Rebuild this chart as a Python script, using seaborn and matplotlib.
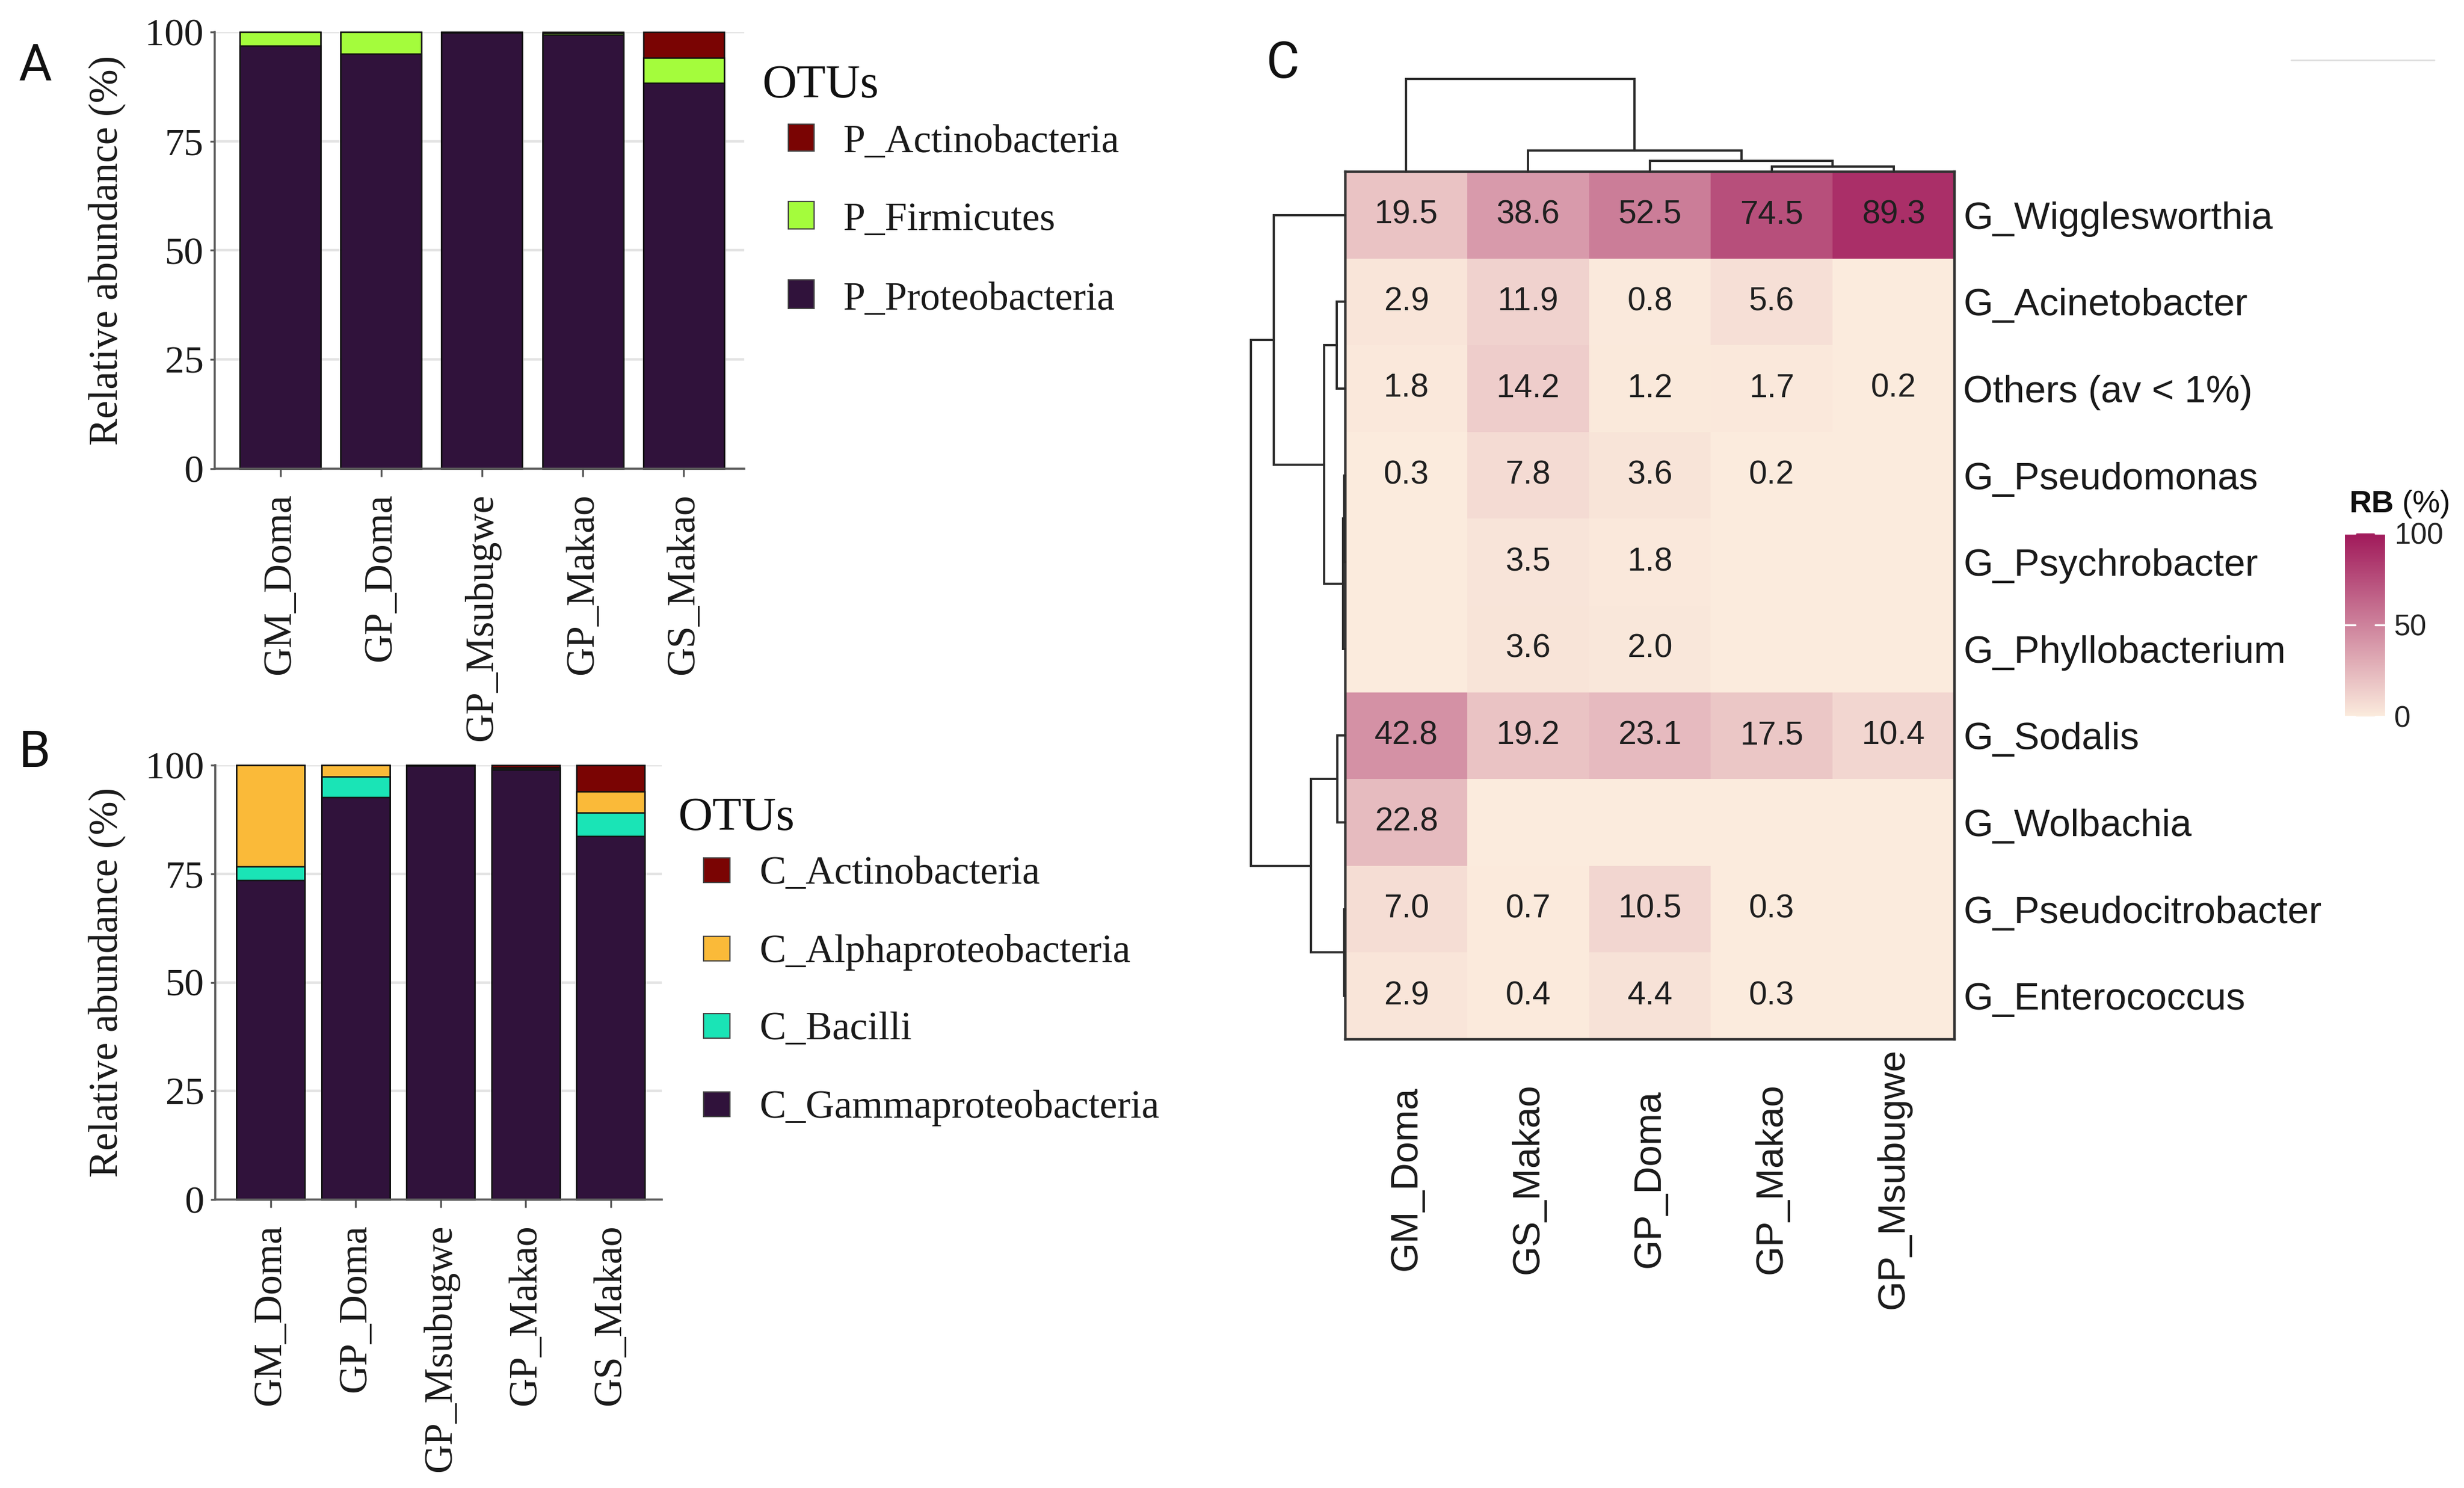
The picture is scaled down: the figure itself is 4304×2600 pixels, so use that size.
import numpy as np
import pandas as pd
import matplotlib
matplotlib.use("Agg")
import matplotlib.pyplot as plt
import matplotlib.transforms as mtransforms
from matplotlib.colors import LinearSegmentedColormap
from matplotlib.patches import Rectangle
from matplotlib.lines import Line2D
import seaborn as sns

sns.set_theme(style="white")
plt.rcParams['font.family'] = ['Liberation Serif', 'DejaVu Serif']

# ---------------- data ----------------
samples_bar = ["GM_Doma", "GP_Doma", "GP_Msubugwe", "GP_Makao", "GS_Makao"]

phylum_names = ["P_Actinobacteria", "P_Firmicutes", "P_Proteobacteria"]
p_actinobacteria = [0.0, 0.0, 0.0, 0.3, 5.9]
p_firmicutes = [3.1, 5.0, 0.1, 0.3, 5.7]
p_proteobacteria = [96.9, 95.0, 99.9, 99.4, 88.4]

class_names = ["C_Actinobacteria", "C_Alphaproteobacteria", "C_Bacilli", "C_Gammaproteobacteria"]
c_actinobacteria = [0.0, 0.0, 0.0, 0.5, 6.1]
c_alphaproteobacteria = [23.3, 2.6, 0.0, 0.3, 4.8]
c_bacilli = [3.2, 4.8, 0.1, 0.2, 5.5]
c_gammaproteobacteria = [73.5, 92.6, 99.9, 99.0, 83.6]

heat_cols = ["GM_Doma", "GS_Makao", "GP_Doma", "GP_Makao", "GP_Msubugwe"]
heat_rows = ["G_Wigglesworthia", "G_Acinetobacter", "Others (av < 1%)", "G_Pseudomonas",
             "G_Psychrobacter", "G_Phyllobacterium", "G_Sodalis", "G_Wolbachia",
             "G_Pseudocitrobacter", "G_Enterococcus"]
rb_wigglesworthia = [19.5, 38.6, 52.5, 74.5, 89.3]
rb_acinetobacter = [2.9, 11.9, 0.8, 5.6, 0.0]
rb_others = [1.8, 14.2, 1.2, 1.7, 0.2]
rb_pseudomonas = [0.3, 7.8, 3.6, 0.2, 0.0]
rb_psychrobacter = [0.0, 3.5, 1.8, 0.0, 0.0]
rb_phyllobacterium = [0.0, 3.6, 2.0, 0.0, 0.0]
rb_sodalis = [42.8, 19.2, 23.1, 17.5, 10.4]
rb_wolbachia = [22.8, 0.0, 0.0, 0.0, 0.0]
rb_pseudocitrobacter = [7.0, 0.7, 10.5, 0.3, 0.0]
rb_enterococcus = [2.9, 0.4, 4.4, 0.3, 0.0]

# dendrogram merges (child a, child b, height); leaves in display order, new nodes numbered after leaves
col_links = [(3, 4, 3.1), (2, 5, 7.1), (1, 6, 13.4), (0, 7, 59.0)]
row_links = [(1, 2, 5.4), (3, 4, 0.8), (11, 5, 1.5), (10, 12, 13.3), (0, 13, 45.4),
             (6, 7, 5.0), (8, 9, 0.6), (15, 16, 21.8), (14, 17, 60.0)]

rb_colors = ["#FBEBDD", "#A0195A"]

# ---------------- figure ----------------
W, H = 4304, 2600
DPI = 200
fig = plt.figure(figsize=(W / DPI, H / DPI), dpi=DPI)
fig.patch.set_facecolor("white")


def rect(l, t, r, b):
    return [l / W, 1 - b / H, (r - l) / W, (b - t) / H]


def fx(px):
    return px / W


def fy(py):
    return 1 - py / H


turbo = plt.get_cmap("turbo")
axis_grey = "#5a5a5a"


def stacked_panel(ax, layers, names, colors):
    # layers listed top -> bottom; draw cumulative totals, tallest first
    arr = np.array(layers, dtype=float)
    for i in range(len(names)):
        cum = arr[i:].sum(axis=0)
        sns.barplot(x=samples_bar, y=cum, order=samples_bar, color=colors[i], saturation=1,
                    width=0.8, edgecolor="#111111", linewidth=0.9, errorbar=None, ax=ax)
    for p in ax.patches:
        p.set_clip_on(False)
    ax.set_xlim(-0.65, 4.6)
    ax.set_ylim(0, 100)
    ax.set_yticks([0, 25, 50, 75, 100])
    ax.yaxis.grid(True, color="#E3E3E3", lw=1.6)
    ax.xaxis.grid(False)
    ax.set_axisbelow(True)
    for s in ["top", "right"]:
        ax.spines[s].set_visible(False)
    for s in ["left", "bottom"]:
        ax.spines[s].set_visible(True)
        ax.spines[s].set_color(axis_grey)
        ax.spines[s].set_linewidth(1.3)
    ax.tick_params(axis="x", length=5, width=1.2, color=axis_grey, pad=10.5, labelsize=25,
                   labelcolor="#1a1a1a", bottom=True)
    ax.tick_params(axis="y", length=3, width=1.2, color=axis_grey, pad=4, labelsize=24.5,
                   labelcolor="#1a1a1a", left=True)
    for lab in ax.get_xticklabels():
        lab.set_rotation(90)
        lab.set_va("top")
        lab.set_ha("center")
    ax.set_xlabel("")
    ax.set_ylabel("Relative abundance (%)", fontsize=25.5, color="#1a1a1a", va="center")


def manual_legend(title, title_xy, key_x, key_ys, label_x, names, colors):
    fig.text(fx(title_xy[0]), fy(title_xy[1]), title, fontsize=30, va="baseline",
             ha="left", color="#111111")
    for (t, b), nm, c in zip(key_ys, names, colors):
        fig.add_artist(Rectangle((fx(key_x[0]), fy(b)), (key_x[1] - key_x[0]) / W, (b - t) / H,
                                 transform=fig.transFigure, facecolor=c, edgecolor="#444444",
                                 linewidth=0.8))
        fig.text(fx(label_x), fy(b + 2), nm, fontsize=25, va="baseline", ha="left",
                 color="#1a1a1a")


# ---- Panel A ----
axA = fig.add_axes(rect(375, 56, 1300, 819))
colA = [turbo(1.0), turbo(0.5), turbo(0.0)]
stacked_panel(axA, [p_actinobacteria, p_firmicutes, p_proteobacteria], phylum_names, colA)
axA.yaxis.set_label_coords((187.5 - 375) / (1300 - 375), 0.5)
manual_legend("OTUs", (1332, 170), (1377, 1422), [(217, 264), (352, 400), (489, 539)],
              1473, phylum_names, colA)

# ---- Panel B ----
axB = fig.add_axes(rect(376, 1337, 1156, 2096))
colB = [turbo(1.0), turbo(2 / 3), turbo(1 / 3), turbo(0.0)]
stacked_panel(axB, [c_actinobacteria, c_alphaproteobacteria, c_bacilli, c_gammaproteobacteria],
              class_names, colB)
axB.yaxis.set_label_coords((187.5 - 376) / (1156 - 376), 0.5)
manual_legend("OTUs", (1185, 1450), (1229, 1275),
              [(1499, 1542), (1636, 1679), (1771, 1814), (1908, 1951)],
              1326, class_names, colB)

# ---- Panel C: heatmap ----
rb = pd.DataFrame([rb_wigglesworthia, rb_acinetobacter, rb_others, rb_pseudomonas,
                   rb_psychrobacter, rb_phyllobacterium, rb_sodalis, rb_wolbachia,
                   rb_pseudocitrobacter, rb_enterococcus], index=heat_rows, columns=heat_cols)
annot = np.where(rb.values > 0, np.vectorize(lambda v: f"{v:.1f}")(rb.values), "")

hax = fig.add_axes(rect(2350, 300, 3414, 1816))
cax = fig.add_axes(rect(4096, 932, 4166, 1252))
cmap = LinearSegmentedColormap.from_list("rb", rb_colors)
sns.heatmap(rb, ax=hax, cmap=cmap, vmin=0, vmax=100, annot=annot, fmt="",
            annot_kws=dict(fontsize=20.5, color="#1f1f1f", family="Liberation Sans"),
            cbar_ax=cax, linewidths=0)
for s in hax.spines.values():
    s.set_visible(True)
    s.set_color("#333333")
    s.set_linewidth(1.6)
hax.yaxis.tick_right()
hax.tick_params(axis="y", length=0, pad=5.5, labelright=True, labelleft=False, labelsize=24,
                labelcolor="#1a1a1a")
hax.tick_params(axis="x", length=0, pad=87.5, labelsize=24, labelcolor="#1a1a1a")
for lab in hax.get_yticklabels():
    lab.set_rotation(0)
    lab.set_ha("left")
    lab.set_family("Liberation Sans")
for lab in hax.get_xticklabels():
    lab.set_rotation(90)
    lab.set_va("center")
    lab.set_ha("center")
    lab.set_family("Liberation Sans")
hax.set_xlabel("")
hax.set_ylabel("")

# colorbar styling
cbar = hax.collections[0].colorbar
cbar.set_ticks([0, 50, 100])
cbar.outline.set_visible(False)
cax.tick_params(length=0, pad=5.8, labelsize=18.5, labelcolor="#222222")
for lab in cax.get_yticklabels():
    lab.set_family("Liberation Sans")
btr = mtransforms.blended_transform_factory(cax.transAxes, cax.transData)
for v in [0, 50, 100]:
    cax.plot([0, 0.25], [v, v], color="white", lw=1.2, transform=btr, clip_on=False)
    cax.plot([0.75, 1], [v, v], color="white", lw=1.2, transform=btr, clip_on=False)


# ---- dendrograms ----
def dendro(ax, links, n, orient):
    pos = {i: i + 0.5 for i in range(n)}
    hgt = {i: 0.0 for i in range(n)}
    for k, (a, b, h) in enumerate(links):
        node = n + k
        xa, xb = pos[a], pos[b]
        ha_, hb_ = hgt[a], hgt[b]
        if orient == "top":
            ax.plot([xa, xa, xb, xb], [ha_, h, h, hb_], color="#2b2b2b", lw=1.4,
                    solid_joinstyle="miter", clip_on=False)
        else:
            ax.plot([ha_, h, h, hb_], [xa, xa, xb, xb], color="#2b2b2b", lw=1.4,
                    solid_joinstyle="miter", clip_on=False)
        pos[node] = (xa + xb) / 2
        hgt[node] = h
    ax.axis("off")


dcol = fig.add_axes(rect(2350, 138, 3414, 300))
dcol.set_xlim(0, len(heat_cols))
dcol.set_ylim(0, 59.0)
dendro(dcol, col_links, len(heat_cols), "top")

drow = fig.add_axes(rect(2185, 300, 2350, 1816))
drow.set_ylim(len(heat_rows), 0)
drow.set_xlim(60.0, 0)
dendro(drow, row_links, len(heat_rows), "left")

# colour key title: bold "RB" + " (%)"
t1 = fig.text(fx(4103), fy(881), "RB", fontsize=19.5, fontweight="bold", va="center",
              ha="left", family="Liberation Sans", color="#111111")
fig.canvas.draw()
bb = t1.get_window_extent(renderer=fig.canvas.get_renderer())
fig.text(bb.x1 / fig.bbox.width, fy(881), " (%)", fontsize=19.5, va="center", ha="left",
         family="Liberation Sans", color="#111111")

# faint line at top right
fig.add_artist(Line2D([fx(4002), fx(4252)], [fy(105), fy(105)], transform=fig.transFigure,
                      color="#DDDDDD", lw=1.0))

# panel letters
for letter, (x, y) in {"A": (33, 74), "B": (33, 1273), "C": (2212, 69)}.items():
    fig.text(fx(x), fy(y), letter, fontsize=32, family="Roboto", va="top", ha="left",
             color="#111111")

fig.savefig("out.png", dpi=DPI, facecolor="white")
